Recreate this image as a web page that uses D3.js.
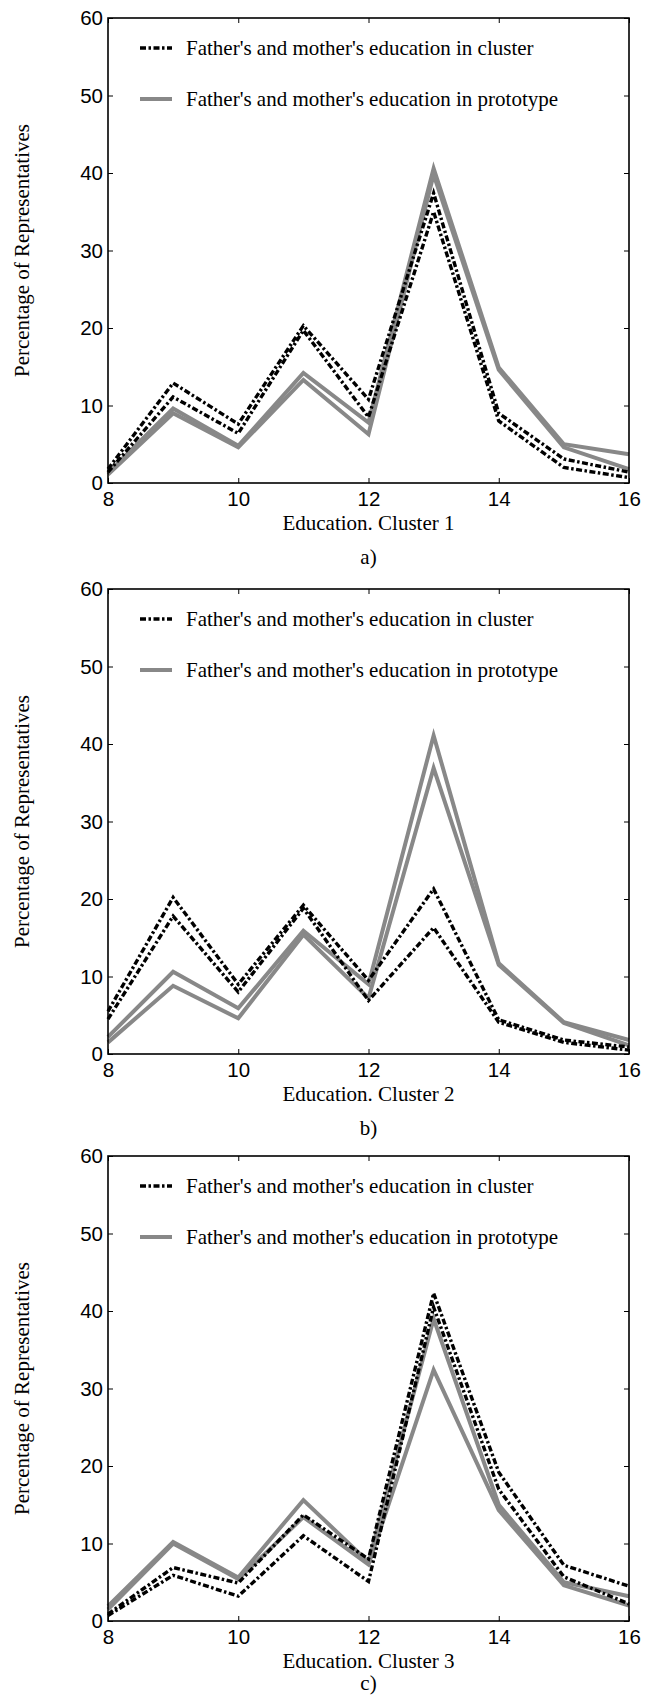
<!DOCTYPE html>
<html>
<head>
<meta charset="utf-8">
<script src="https://cdn.jsdelivr.net/npm/d3@7"></script>
<style>
  html, body { margin: 0; padding: 0; background: #fff; }
  svg { display: block; }
  .tick text { font-family: "Liberation Sans", Arial, sans-serif; font-size: 20.5px; fill: #000; }
  .serif { font-family: "Liberation Serif", "Times New Roman", serif; font-size: 21px; fill: #000; }
</style>
</head>
<body>
<svg id="chart" width="651" height="1695"></svg>
<script>
// Data
const educationLevels = [8, 9, 10, 11, 12, 13, 14, 15, 16]
const xTicks = [8, 10, 12, 14, 16]
const yTicks = [0, 10, 20, 30, 40, 50, 60]

const clusterNames = ['Education. Cluster 1', 'Education. Cluster 2', 'Education. Cluster 3']
const panelTags = ['a)', 'b)', 'c)']
const legendLabels = ["Father's and mother's education in cluster", "Father's and mother's education in prototype"]

// cluster 1
const c1ClusterA = [1.8, 12.9, 7.6, 20.3, 10.8, 37.4, 9.0, 3.1, 1.4]
const c1ClusterB = [1.4, 11.1, 6.4, 19.7, 8.5, 35.0, 8.0, 2.0, 0.7]
const c1ProtoA   = [1.3, 9.6, 4.8, 14.2, 7.8, 40.6, 14.9, 5.0, 3.7]
const c1ProtoB   = [1.1, 9.0, 4.6, 13.3, 6.3, 39.8, 14.6, 4.6, 1.8]

// cluster 2
const c2ClusterA = [5.5, 20.2, 9.0, 19.2, 9.5, 21.3, 4.4, 1.8, 0.9]
const c2ClusterB = [4.5, 17.8, 8.0, 18.8, 6.9, 16.3, 4.1, 1.5, 0.5]
const c2ProtoA   = [2.2, 10.6, 5.9, 15.9, 9.0, 41.1, 11.7, 4.1, 1.8]
const c2ProtoB   = [1.5, 8.8, 4.6, 15.4, 7.2, 36.9, 11.5, 4.0, 1.1]

// cluster 3
const c3ClusterA = [0.9, 6.9, 4.9, 13.7, 8.0, 42.3, 19.2, 7.2, 4.5]
const c3ClusterB = [0.7, 5.9, 3.2, 11.0, 5.1, 40.5, 17.0, 5.7, 2.2]
const c3ProtoA   = [1.9, 10.2, 5.6, 15.6, 7.6, 39.0, 15.0, 5.0, 3.2]
const c3ProtoB   = [1.5, 10.0, 5.4, 13.4, 7.3, 32.4, 14.3, 4.6, 2.0]

const panels = [
  { cluster: [c1ClusterA, c1ClusterB], proto: [c1ProtoA, c1ProtoB] },
  { cluster: [c2ClusterA, c2ClusterB], proto: [c2ProtoA, c2ProtoB] },
  { cluster: [c3ClusterA, c3ClusterB], proto: [c3ProtoA, c3ProtoB] },
]

// Geometry
const panelTops = [18, 589, 1156]
const plot = { left: 108, width: 521, height: 465 }
const gray = '#888888'
const dashDot = '6,2.5,2.5,2.5'

const svg = d3.select('#chart')

const x = d3.scaleLinear().domain([8, 16]).range([0, plot.width])
const y = d3.scaleLinear().domain([0, 60]).range([plot.height, 0])

const line = d3.line()
  .x((d, i) => x(educationLevels[i]))
  .y(d => y(d))

panels.forEach((p, k) => {
  const g = svg.append('g')
    .attr('transform', 'translate(' + plot.left + ',' + panelTops[k] + ')')

  // axes with inward ticks
  g.append('g')
    .call(d3.axisLeft(y).tickValues(yTicks).tickSizeInner(-5).tickSizeOuter(0).tickPadding(5))
    .call(a => a.select('.domain').remove())
  g.append('g')
    .attr('transform', 'translate(' + plot.width + ',0)')
    .call(d3.axisRight(y).tickValues(yTicks).tickSizeInner(-5).tickSizeOuter(0).tickFormat(''))
    .call(a => a.select('.domain').remove())
  g.append('g')
    .attr('transform', 'translate(0,' + plot.height + ')')
    .call(d3.axisBottom(x).tickValues(xTicks).tickSizeInner(-5).tickSizeOuter(0).tickPadding(8))
    .call(a => a.select('.domain').remove())
  g.append('g')
    .call(d3.axisTop(x).tickValues(xTicks).tickSizeInner(-5).tickSizeOuter(0).tickFormat(''))
    .call(a => a.select('.domain').remove())
  g.selectAll('.tick line').attr('stroke', '#000').attr('stroke-width', 1)

  // lines: prototype (gray) below, cluster (black dash-dot) on top
  g.append('g')
    .selectAll('path')
    .data(p.proto)
    .join('path')
      .attr('d', line)
      .attr('fill', 'none')
      .attr('stroke', gray)
      .attr('stroke-width', 4)

  g.append('g')
    .selectAll('path')
    .data(p.cluster)
    .join('path')
      .attr('d', line)
      .attr('fill', 'none')
      .attr('stroke', '#000')
      .attr('stroke-width', 3.4)
      .attr('stroke-dasharray', dashDot)

  // frame
  g.append('rect')
    .attr('width', plot.width)
    .attr('height', plot.height)
    .attr('fill', 'none')
    .attr('stroke', '#000')
    .attr('stroke-width', 1.6)

  // legend
  const legend = g.append('g')
  const rows = [
    { dy: 30, stroke: '#000', width: 3.4, dash: dashDot },
    { dy: 81, stroke: gray, width: 4, dash: null },
  ]
  rows.forEach((r, i) => {
    legend.append('line')
      .attr('x1', 32).attr('x2', 64)
      .attr('y1', r.dy).attr('y2', r.dy)
      .attr('stroke', r.stroke)
      .attr('stroke-width', r.width)
      .attr('stroke-dasharray', r.dash)
    legend.append('text')
      .attr('class', 'serif')
      .attr('x', 78)
      .attr('y', r.dy)
      .attr('dy', '0.32em')
      .text(legendLabels[i])
  })

  // axis titles
  g.append('text')
    .attr('class', 'serif')
    .attr('text-anchor', 'middle')
    .attr('x', plot.width / 2)
    .attr('y', plot.height + 40)
    .attr('dy', '0.32em')
    .text(clusterNames[k])
  g.append('text')
    .attr('class', 'serif')
    .attr('text-anchor', 'middle')
    .attr('x', plot.width / 2)
    .attr('y', plot.height + (k === 2 ? 62 : 74))
    .attr('dy', '0.32em')
    .text(panelTags[k])
  g.append('text')
    .attr('class', 'serif')
    .attr('text-anchor', 'middle')
    .attr('transform', 'translate(' + (22 - plot.left) + ',' + (plot.height / 2) + ') rotate(-90)')
    .attr('dy', '0.32em')
    .text('Percentage of Representatives')
})
</script>
</body>
</html>
